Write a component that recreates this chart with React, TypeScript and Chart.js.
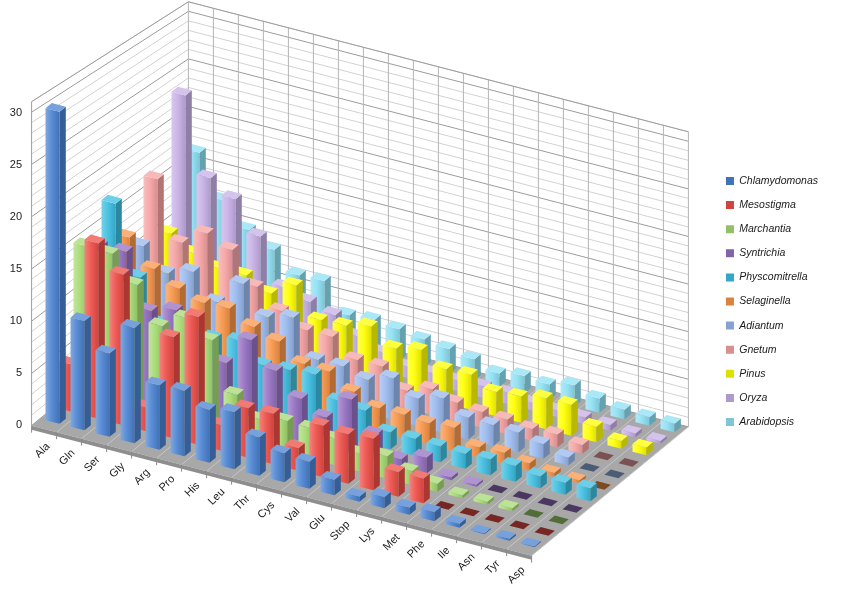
import { useEffect, useRef } from 'react';
import { Chart, registerables } from 'chart.js';

Chart.register(...registerables);

// categories (front axis)
const aminoAcids = ['Ala', 'Gln', 'Ser', 'Gly', 'Arg', 'Pro', 'His', 'Leu', 'Thr', 'Cys', 'Val', 'Glu', 'Stop', 'Lys', 'Met', 'Phe', 'Ile', 'Asn', 'Tyr', 'Asp'];

// one row of bars per species, front to back
const chlamydomonas = [30, 10.5, 8.0, 11.1, 6.2, 6.3, 5.1, 5.5, 3.7, 2.8, 2.6, 1.5, 0.5, 1.1, 0.7, 0.9, 0.4, 0.1, 0.2, 0.1];
const mesostigma = [4.6, 17.0, 14.6, 2.3, 9.8, 12.4, 2.5, 4.8, 4.9, 2.2, 5.0, 4.8, 5.0, 2.4, 2.4, 0, 0, 0, 0, 0];
const marchantia = [15.1, 15.0, 12.6, 9.2, 10.6, 9.1, 4.4, 2.6, 3.1, 3.0, 2.6, 1.8, 2.2, 1.4, 0.8, 0.3, 0.3, 0.3, 0, 0];
const syntrichia = [14.1, 14.2, 9.0, 9.7, 7.6, 5.8, 8.7, 6.3, 4.2, 3.0, 5.4, 2.6, 0.8, 1.6, 0.3, 0.2, 0, 0, 0, 0];
const physcomitrella = [17.3, 10.6, 6.6, 7.6, 6.5, 6.9, 5.1, 5.3, 5.5, 3.5, 3.2, 1.7, 1.7, 1.6, 1.5, 1.6, 1.6, 1.2, 1.2, 1.3];
const selaginella = [12.9, 10.4, 9.1, 8.3, 8.4, 7.2, 6.4, 4.8, 4.7, 3.3, 2.3, 2.3, 2.1, 2.3, 1.0, 1.1, 0.7, 0.4, 0.3, 0];
const adiantum = [11.0, 8.9, 9.7, 7.3, 9.8, 7.1, 7.7, 4.1, 4.1, 3.4, 4.2, 2.8, 3.5, 2.2, 2.1, 2.0, 1.5, 0.8, 0, 0];
const gnetum = [16.7, 10.9, 12.5, 11.5, 8.4, 6.6, 5.3, 5.3, 3.6, 3.6, 1.8, 2.6, 1.9, 1.6, 1.5, 1.2, 1.3, 0.9, 0, 0];
const pinus = [10.1, 8.7, 7.8, 7.8, 6.6, 8.1, 5.2, 5.3, 5.9, 4.3, 4.8, 3.5, 3.6, 2.5, 2.7, 3.2, 3.2, 1.6, 0.8, 0.8];
const oryza = [23.3, 15.4, 13.9, 10.7, 6.1, 5.3, 4.6, 3.0, 2.0, 1.2, 1.2, 1.1, 1.2, 1.2, 0.8, 0.7, 0.7, 0.6, 0.4, 0.3];
const arabidopsis = [16.3, 12.0, 9.6, 8.2, 6.2, 6.3, 3.4, 3.6, 3.3, 2.9, 2.6, 2.2, 1.4, 1.8, 1.6, 2.2, 1.5, 1.0, 0.9, 0.9];

const speciesNames = ['Chlamydomonas', 'Mesostigma', 'Marchantia', 'Syntrichia', 'Physcomitrella', 'Selaginella', 'Adiantum', 'Gnetum', 'Pinus', 'Oryza', 'Arabidopsis'];
const speciesValues = [chlamydomonas, mesostigma, marchantia, syntrichia, physcomitrella, selaginella, adiantum, gnetum, pinus, oryza, arabidopsis];
const speciesColors = ['#4a82d0', '#ee4d46', '#a6da72', '#9470c2', '#3cbde0', '#f89548', '#98b8ee', '#f6a2a2', '#ffff00', '#c6afe6', '#8ee0f4'];

const yTicks = [0, 5, 10, 15, 20, 25, 30];
const wallTop = 31;

// fake 3d: shear along the category axis + shift per row in depth
const K = 0.26;
const DX = 14;
const DY = -11.5;
const DX0 = 10;
const DY0 = -6.25;
const PERSP = 0.008;
const FRONT = -0.6;
const BACK = 10.6;
const BAR_PCT = 0.56;
const BAR_DEPTH = 0.45;
const PAD_TOP = 10;
const PLOT_TOP = 113;
const PLOT_BOTTOM = 425;
const PLOT_RIGHT = 530;
const PAD_RIGHT = 13;
const FONT = "'Liberation Sans', Arial, sans-serif";

function shade(hex: string, amt: number) {
  const n = parseInt(hex.slice(1), 16);
  const f = (c: number) => (amt >= 0 ? Math.round(c + (255 - c) * amt) : Math.round(c * (1 + amt)));
  return `rgb(${f(n >> 16)},${f((n >> 8) & 255)},${f(n & 255)})`;
}

function project(chart: any, x: number, y: number, d: number) {
  const left = chart.chartArea.left;
  const y0 = chart.scales.y.getPixelForValue(0);
  const s = 1 - PERSP * d;
  return { x: x + DX0 + d * DX, y: y0 + s * (y - y0) + K * (x - left) + DY0 + d * DY };
}

function applyRow(ctx: CanvasRenderingContext2D, chart: any, d: number) {
  const left = chart.chartArea.left;
  const y0 = chart.scales.y.getPixelForValue(0);
  const s = 1 - PERSP * d;
  ctx.translate(DX0 + d * DX, DY0 + d * DY);
  ctx.transform(1, K, 0, 1, 0, -K * left);
  ctx.translate(0, y0);
  ctx.scale(1, s);
  ctx.translate(0, -y0);
}

function poly(ctx: CanvasRenderingContext2D, pts: { x: number; y: number }[], fill: string) {
  ctx.beginPath();
  pts.forEach((p, i) => (i ? ctx.lineTo(p.x, p.y) : ctx.moveTo(p.x, p.y)));
  ctx.closePath();
  ctx.fillStyle = fill;
  ctx.fill();
}

function line(ctx: CanvasRenderingContext2D, pts: { x: number; y: number }[], color: string) {
  ctx.beginPath();
  pts.forEach((p, i) => (i ? ctx.lineTo(p.x, p.y) : ctx.moveTo(p.x, p.y)));
  ctx.strokeStyle = color;
  ctx.lineWidth = 1;
  ctx.stroke();
}

const wallsPlugin = {
  id: 'walls',
  beforeDatasetsDraw(chart: any) {
    const { ctx, chartArea } = chart;
    const ys = chart.scales.y;
    const L = chartArea.left;
    const R = chartArea.right;
    const n = aminoAcids.length;
    const catW = (R - L) / n;
    const y0 = ys.getPixelForValue(0);
    const yt = ys.getPixelForValue(wallTop);
    const P = (x: number, y: number, d: number) => project(chart, x, y, d);
    ctx.save();
    // floor and its front edge
    poly(ctx, [P(L, y0, FRONT), P(R, y0, FRONT), P(R, y0, BACK), P(L, y0, BACK)], '#a8a8a8');
    const fl = P(L, y0, FRONT);
    const fr = P(R, y0, FRONT);
    poly(ctx, [fl, fr, { x: fr.x, y: fr.y + 4 }, { x: fl.x, y: fl.y + 4 }], '#8e8e8e');
    for (let j = 0; j <= n; j++) {
      const x = L + j * catW;
      line(ctx, [P(x, y0, FRONT), P(x, y0, BACK)], '#c6c6c6');
      const p = P(x, y0, FRONT);
      line(ctx, [p, { x: p.x, y: p.y + 7 }], '#8a8a8a');
    }
    // walls grid
    for (let v = 0; v <= wallTop; v++) {
      const y = ys.getPixelForValue(v);
      line(ctx, [P(L, y, FRONT), P(L, y, BACK), P(R, y, BACK)], v % 5 === 0 ? '#9c9c9c' : '#d2d2d2');
    }
    for (let j = 0; j <= n; j++) {
      const x = L + j * catW;
      line(ctx, [P(x, y0, BACK), P(x, yt, BACK)], '#b4b4b4');
    }
    line(ctx, [P(L, y0, FRONT), P(L, yt, FRONT)], '#9c9c9c');
    line(ctx, [P(L, yt, FRONT), P(L, yt, BACK), P(R, yt, BACK)], '#9c9c9c');
    ctx.restore();
  },
  beforeDatasetDraw(chart: any, args: any) {
    chart.ctx.save();
    applyRow(chart.ctx, chart, args.index);
  },
  afterDatasetDraw(chart: any, args: any) {
    const ctx: CanvasRenderingContext2D = chart.ctx;
    const color = speciesColors[args.index];
    const s = 1 - PERSP * args.index;
    const bx = BAR_DEPTH * DX;
    const by = (BAR_DEPTH * DY - K * BAR_DEPTH * DX) / s;
    for (const el of args.meta.data) {
      const { x, y, base, width } = el.getProps(['x', 'y', 'base', 'width'], true);
      const l = x - width / 2;
      const r = x + width / 2;
      const t = Math.min(y, base);
      const b = Math.max(y, base);
      const flat = b - t < 0.5;
      if (!flat) {
        poly(ctx, [{ x: r, y: t }, { x: r + bx, y: t + by }, { x: r + bx, y: b + by }, { x: r, y: b }], shade(color, -0.28));
      }
      poly(ctx, [{ x: l, y: t }, { x: r, y: t }, { x: r + bx, y: t + by }, { x: l + bx, y: t + by }], flat ? shade(color, -0.5) : shade(color, 0.25));
    }
    ctx.restore();
  },
  afterDraw(chart: any) {
    const { ctx } = chart;
    const xs = chart.scales.x;
    const y0 = chart.scales.y.getPixelForValue(0);
    ctx.save();
    ctx.font = `11px ${FONT}`;
    ctx.fillStyle = '#222';
    ctx.textAlign = 'right';
    ctx.textBaseline = 'middle';
    aminoAcids.forEach((name, j) => {
      const p = project(chart, xs.getPixelForValue(j), y0, FRONT);
      ctx.save();
      ctx.translate(p.x + 4, p.y + 16);
      ctx.rotate(-Math.PI / 4);
      ctx.fillText(name, 0, 0);
      ctx.restore();
    });
    ctx.restore();
  },
};

// invisible axis that only reserves space
const spacer = (size: (scale: any) => number) => ({
  display: true,
  ticks: { display: false },
  grid: { display: false, drawTicks: false },
  border: { display: false },
  afterFit: (scale: any) => {
    const v = Math.max(0, size(scale));
    if (scale.isHorizontal()) scale.height = v;
    else scale.width = v;
  },
});

const App = () => {
  const chartRef = useRef<HTMLCanvasElement>(null);
  const chartInstance = useRef<Chart | null>(null);

  useEffect(() => {
    if (!chartRef.current) return;
    if (chartInstance.current) chartInstance.current.destroy();

    const datasets = speciesNames.map((name, i) => ({
      label: name,
      data: speciesValues[i],
      backgroundColor: (c: any) => {
        const color = speciesColors[i];
        const xs = c.chart && c.chart.scales ? c.chart.scales.x : null;
        if (c.type !== 'data' || !xs) return color;
        const cx = xs.getPixelForValue(c.dataIndex);
        const w = (xs.width / aminoAcids.length) * BAR_PCT;
        if (!isFinite(cx) || !isFinite(w) || w <= 0) return color;
        const g = c.chart.ctx.createLinearGradient(cx - w / 2, 0, cx + w / 2, 0);
        g.addColorStop(0, shade(color, 0.3));
        g.addColorStop(0.45, shade(color, 0.08));
        g.addColorStop(1, shade(color, -0.12));
        return g;
      },
      borderWidth: 0,
      grouped: false,
      categoryPercentage: 1,
      barPercentage: BAR_PCT,
      clip: false as any,
    }));

    chartInstance.current = new Chart(chartRef.current, {
      type: 'bar',
      data: { labels: aminoAcids, datasets },
      options: {
        animation: false,
        responsive: true,
        maintainAspectRatio: false,
        layout: { padding: { top: PAD_TOP, bottom: 0, left: 0, right: PAD_RIGHT } },
        plugins: {
          legend: {
            position: 'right',
            labels: {
              boxWidth: 8,
              boxHeight: 8,
              padding: 13.6,
              color: '#1a1a1a',
              font: { family: FONT, size: 10.5, style: 'italic' },
            },
          },
          tooltip: { enabled: false },
        },
        scales: {
          x: { offset: true, ...spacer((s) => s.chart.height - PLOT_BOTTOM) },
          xTop: { type: 'linear', position: 'top', ...spacer(() => PLOT_TOP - PAD_TOP) } as any,
          y: {
            min: yTicks[0],
            max: yTicks[yTicks.length - 1],
            ticks: { stepSize: yTicks[1] - yTicks[0], padding: 8, color: '#222', font: { family: FONT, size: 11 } },
            grid: { display: false, drawTicks: false },
            border: { display: false },
            afterFit: (scale: any) => {
              scale.width = 30;
            },
          },
          y2: {
            position: 'right',
            ...spacer((s) => {
              const lg = s.chart.legend;
              return s.chart.width - PAD_RIGHT - (lg ? lg.width : 0) - PLOT_RIGHT;
            }),
          } as any,
        },
      },
      plugins: [wallsPlugin],
    });

    return () => {
      if (chartInstance.current) {
        chartInstance.current.destroy();
        chartInstance.current = null;
      }
    };
  }, []);

  return (
    <div style={{ position: 'fixed', inset: 0, background: '#fff' }}>
      <canvas ref={chartRef} />
    </div>
  );
};

export default App;
